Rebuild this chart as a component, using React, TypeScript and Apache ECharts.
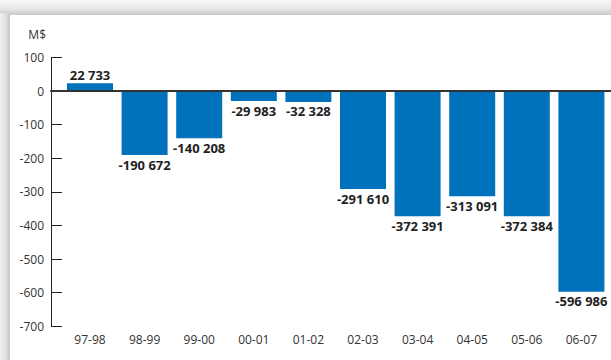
import React, { useEffect, useRef } from "react";
import * as echarts from "echarts";

const categories = ["97-98", "98-99", "99-00", "00-01", "01-02", "02-03", "03-04", "04-05", "05-06", "06-07"];
const values = [22733, -190672, -140208, -29983, -32328, -291610, -372391, -313091, -372384, -596986];
const unitLabel = "M$";
const yMin = -700;
const yMax = 100;
const yInterval = 100;

const fmtThousands = (n: number) => {
  const s = Math.abs(Math.round(n)).toString().replace(/\B(?=(\d{3})+(?!\d))/g, " ");
  return (n < 0 ? "-" : "") + s;
};

const FONT = "'Open Sans', sans-serif";

export default function App() {
  const ref = useRef<HTMLDivElement>(null);
  useEffect(() => {
    if (!ref.current) return;
    const chart = echarts.init(ref.current, undefined, { renderer: "svg" });
    const gridTop = 57.4;
    const gridBottom = 33.7;
    chart.setOption({
      animation: false,
      backgroundColor: "#ffffff",
      textStyle: { fontFamily: FONT },
      graphic: [
        {
          type: "rect",
          z: -10,
          shape: { x: 0, y: 0, width: 611, height: 15 },
          style: {
            fill: new echarts.graphic.LinearGradient(0, 0, 0, 1, [
              { offset: 0, color: "#f8f8f8" },
              { offset: 0.6, color: "#e6e6e6" },
              { offset: 1, color: "#c9c9c9" },
            ]),
          },
          silent: true,
        },
        {
          type: "rect",
          z: -10,
          shape: { x: 0, y: 13, width: 10, height: 347 },
          style: {
            fill: new echarts.graphic.LinearGradient(0, 0, 1, 0, [
              { offset: 0, color: "#f0f0f0" },
              { offset: 0.6, color: "#dedede" },
              { offset: 1, color: "#c4c4c4" },
            ]),
          },
          silent: true,
        },
        {
          type: "text",
          x: 46,
          y: 34,
          style: {
            text: unitLabel,
            fill: "#333333",
            font: `12px ${FONT}`,
            align: "right",
            verticalAlign: "middle",
          },
        },
      ],
      grid: [
        { left: 51, right: 0, top: gridTop, bottom: gridBottom, containLabel: false },
        { left: 62.7, right: 2.3, top: gridTop, bottom: gridBottom, containLabel: false },
      ],
      xAxis: [
        {
          type: "value",
          gridIndex: 0,
          min: 0,
          max: 1,
          z: 10,
          axisLine: { show: true, onZero: true, lineStyle: { color: "#333333", width: 2 } },
          axisTick: { show: false },
          axisLabel: { show: false },
          splitLine: { show: false },
        },
        {
          type: "category",
          gridIndex: 1,
          data: categories,
          position: "bottom",
          axisLine: { show: false, onZero: false },
          axisTick: { show: false },
          axisLabel: { color: "#333333", fontSize: 12, fontFamily: FONT, margin: 7 },
          splitLine: { show: false },
        },
      ],
      yAxis: [
        {
          type: "value",
          gridIndex: 0,
          min: yMin,
          max: yMax,
          interval: yInterval,
          axisLine: { show: true, lineStyle: { color: "#222222", width: 1 } },
          axisTick: { show: true, inside: true, length: 11, lineStyle: { color: "#222222", width: 1 } },
          axisLabel: { color: "#333333", fontSize: 12, fontFamily: FONT, margin: 7 },
          splitLine: { show: false },
        },
        {
          type: "value",
          gridIndex: 1,
          min: yMin,
          max: yMax,
          interval: yInterval,
          show: false,
          splitLine: { show: false },
        },
      ],
      series: [
        {
          type: "bar",
          xAxisIndex: 1,
          yAxisIndex: 1,
          barWidth: 46,
          z: 2,
          itemStyle: { color: "#0072bc" },
          data: values.map((v) => ({
            value: v / 1000,
            label: {
              show: true,
              position: v >= 0 ? "top" : "bottom",
              distance: v >= 0 ? 2 : 3,
              formatter: () => fmtThousands(v),
              color: "#222222",
              fontSize: 13,
              fontWeight: "bold",
              fontFamily: FONT,
            },
          })),
        },
      ],
    });
    return () => chart.dispose();
  }, []);
  return (
    <div
      ref={ref}
      style={{ position: "fixed", left: 0, top: 0, width: 611, height: 360 }}
    />
  );
}
